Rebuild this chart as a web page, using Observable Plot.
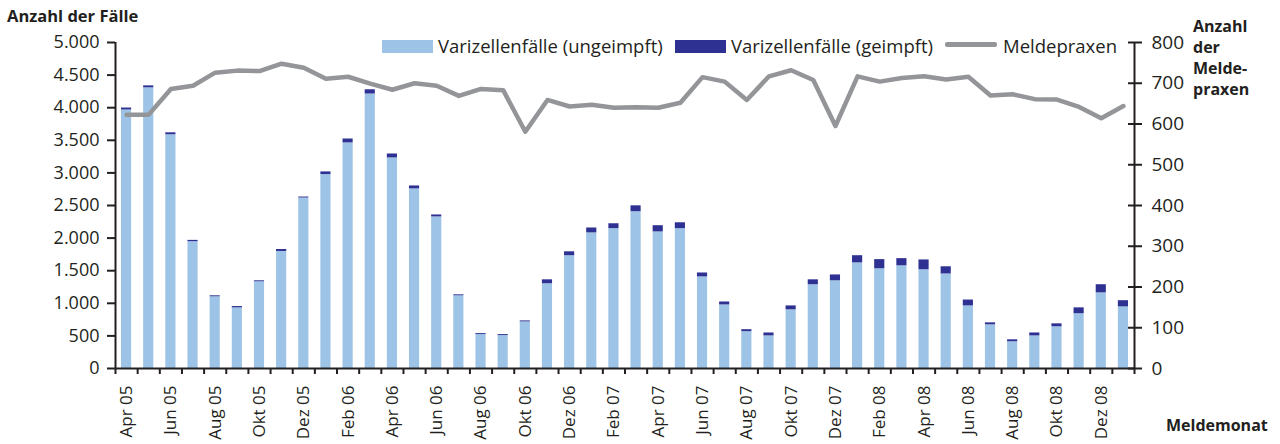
<!DOCTYPE html>
<html><head><meta charset="utf-8">
<script src="https://cdn.jsdelivr.net/npm/d3@7"></script>
<script src="https://cdn.jsdelivr.net/npm/@observablehq/plot@0.6"></script>
<style>
body{margin:0;background:#fff;font-family:"Open Sans",sans-serif;color:#231f20}
#wrap{position:relative;width:1280px;height:444px;overflow:hidden}
.abs{position:absolute;white-space:nowrap;line-height:1}
.b{font-weight:bold;font-size:16px}
.lt{font-size:18.5px}
</style></head>
<body><div id="wrap"></div>
<script>
const monate = ["Apr 05","Mai 05","Jun 05","Jul 05","Aug 05","Sep 05","Okt 05","Nov 05","Dez 05",
  "Jan 06","Feb 06","Mär 06","Apr 06","Mai 06","Jun 06","Jul 06","Aug 06","Sep 06","Okt 06","Nov 06","Dez 06",
  "Jan 07","Feb 07","Mär 07","Apr 07","Mai 07","Jun 07","Jul 07","Aug 07","Sep 07","Okt 07","Nov 07","Dez 07",
  "Jan 08","Feb 08","Mär 08","Apr 08","Mai 08","Jun 08","Jul 08","Aug 08","Sep 08","Okt 08","Nov 08","Dez 08",
  "Jan 09"];
const ungeimpft = [3965,4305,3585,1945,1100,930,1330,1795,2615,2975,3460,4210,3230,2755,2325,1115,520,505,715,1300,
  1730,2080,2145,2405,2095,2145,1405,975,565,500,900,1285,1345,1620,1530,1575,1515,1450,960,670,410,500,640,840,1160,945];
const geimpft = [30,30,30,20,15,20,15,30,15,40,60,65,60,45,30,15,15,15,15,60,
  60,75,75,90,95,90,60,45,30,45,60,75,90,110,140,110,150,110,90,30,30,45,45,90,125,95];
const meldepraxen = [623,623,686,694,726,731,730,748,738,711,716,699,684,700,694,669,686,683,581,659,
  643,647,640,641,640,652,715,704,659,717,732,708,595,717,704,713,717,709,716,670,673,661,660,642,614,644];
const yTicksLeft = [0,500,1000,1500,2000,2500,3000,3500,4000,4500,5000];
const yTicksRight = [0,100,200,300,400,500,600,700,800];
const serien = ["Varizellenfälle (ungeimpft)","Varizellenfälle (geimpft)","Meldepraxen"];
const farben = ["#9dc3e6","#2e3192","#939598"];

const n = monate.length;
const ratio = 5000 / 800;
const rows = monate.map((m, i) => ({i, m, u: ungeimpft[i], g: geimpft[i], p: meldepraxen[i]}));
const de = d3.formatLocale({decimal: ",", thousands: ".", grouping: [3], currency: ["", "€"]}).format(",d");
const labelPos = rows.filter(d => d.i % 2 === 0).map(d => d.i + 0.5);
const ink = "#231f20";

const chart = Plot.plot({
  width: 1280, height: 444,
  marginLeft: 115, marginRight: 146, marginTop: 42, marginBottom: 76,
  style: {fontFamily: "Open Sans", fontSize: "18px", color: ink, background: "white"},
  x: {type: "linear", domain: [0, n], axis: null},
  y: {domain: [0, 5000], axis: null},
  marks: [
    Plot.rectY(rows, {x1: "i", x2: d => d.i + 1, y1: 0, y2: "u", fill: farben[0], insetLeft: 6, insetRight: 6}),
    Plot.rectY(rows, {x1: "i", x2: d => d.i + 1, y1: "u", y2: d => d.u + d.g, fill: farben[1], insetLeft: 6, insetRight: 6}),
    Plot.line(rows, {x: d => d.i + 0.5, y: d => d.p * ratio, stroke: farben[2], strokeWidth: 4.5}),
    Plot.axisY(yTicksLeft, {anchor: "left", label: null, tickSize: 8, tickPadding: 8, strokeWidth: 2, tickFormat: de, fill: ink, fontSize: 18}),
    Plot.axisY(yTicksRight.map(v => v * ratio), {anchor: "right", label: null, tickSize: 7, tickPadding: 10, strokeWidth: 2, tickFormat: v => String(Math.round(v / ratio)), fill: ink, fontSize: 19}),
    Plot.axisY(yTicksRight.map(v => v * ratio), {anchor: "right", label: null, tickSize: 7, dx: -7, strokeWidth: 2, tickFormat: () => ""}),
    Plot.axisX(d3.range(0, n + 1), {anchor: "bottom", label: null, tickSize: 6, strokeWidth: 2, tickFormat: () => ""}),
    Plot.axisX(labelPos, {anchor: "bottom", label: null, tickSize: 0, tickPadding: 17, tickRotate: -90, fill: ink, fontSize: 17, tickFormat: v => monate[Math.round(v - 0.5)]}),
    Plot.ruleX([0], {stroke: ink, strokeWidth: 2}),
    Plot.ruleX([n], {stroke: ink, strokeWidth: 2}),
    Plot.ruleY([0], {stroke: ink, strokeWidth: 2})
  ]
});
const wrap = document.getElementById("wrap");
wrap.appendChild(chart);

function add(html, cls, left, top, extra) {
  const d = document.createElement("div");
  d.className = "abs " + cls;
  d.style.left = left + "px"; d.style.top = top + "px";
  if (extra) Object.assign(d.style, extra);
  d.innerHTML = html;
  wrap.appendChild(d);
}
add("Anzahl der Fälle", "b", 7, 8, {fontSize: "16.5px"});
add("Anzahl<br>der<br>Melde-<br>praxen", "b", 1193, 16, {lineHeight: "21px"});
add("Meldemonat", "b", 1166, 417);
// legend
add("", "", 382, 40, {width: "51px", height: "13px", background: farben[0]});
add(serien[0], "lt", 438, 37);
add("", "", 675, 40, {width: "51px", height: "13px", background: farben[1]});
add(serien[1], "lt", 731, 37);
add("", "", 945, 42, {width: "52px", height: "5px", background: farben[2], borderRadius: "2px"});
add(serien[2], "lt", 1003, 37);
</script></body></html>
